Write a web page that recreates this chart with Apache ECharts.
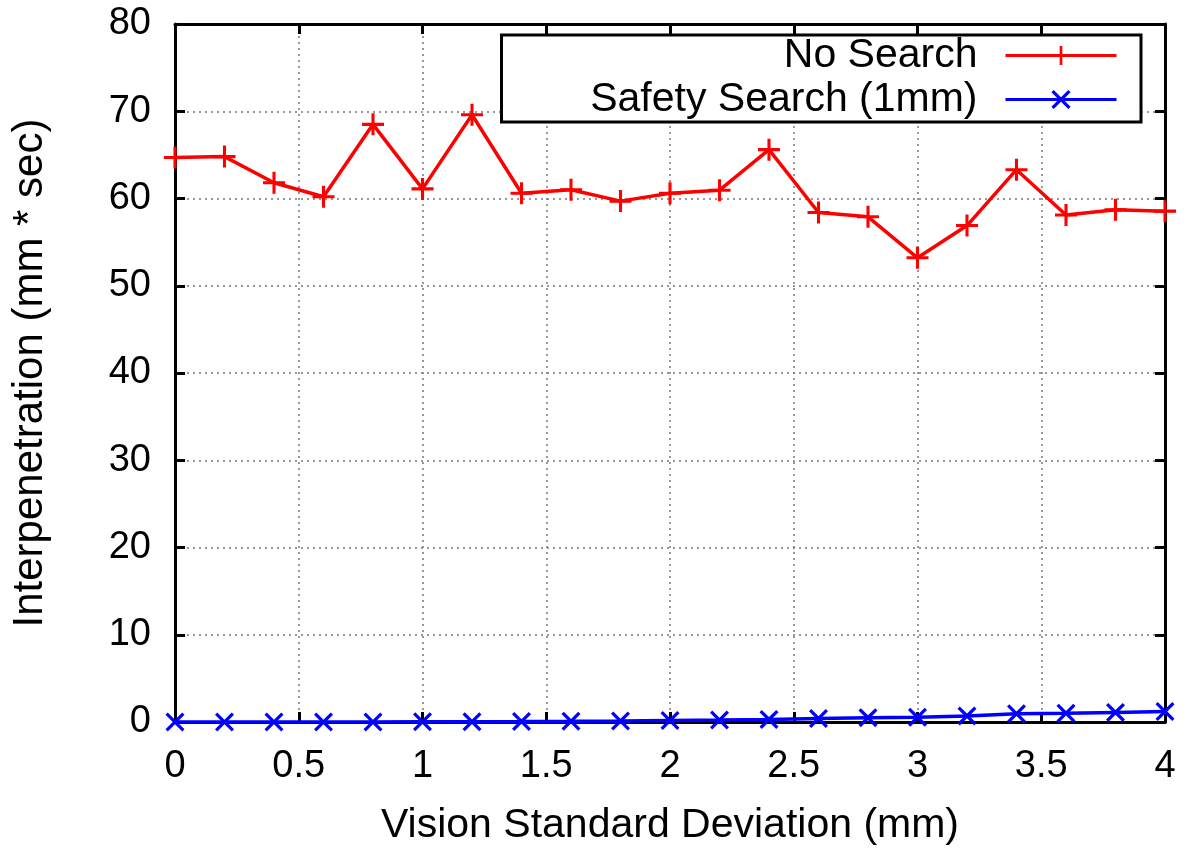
<!DOCTYPE html>
<html>
<head>
<meta charset="utf-8">
<script src="https://cdn.jsdelivr.net/npm/echarts@6/dist/echarts.min.js"></script>
<style>html,body{margin:0;padding:0;background:#fff}#c{width:1189px;height:851px}</style>
</head>
<body>
<div id="c"></div>
<script>
const xValues = [0, 0.2, 0.4, 0.6, 0.8, 1.0, 1.2, 1.4, 1.6, 1.8, 2.0, 2.2, 2.4, 2.6, 2.8, 3.0, 3.2, 3.4, 3.6, 3.8, 4.0];
const noSearch = [64.7, 64.8, 61.8, 60.2, 68.5, 61.1, 69.6, 60.6, 61.0, 59.7, 60.6, 60.95, 65.6, 58.4, 57.9, 53.2, 56.9, 63.3, 58.1, 58.7, 58.55];
const safetySearch = [0, 0, 0, 0, 0, 0.02, 0.03, 0.05, 0.08, 0.12, 0.18, 0.22, 0.3, 0.4, 0.5, 0.55, 0.7, 0.95, 1.0, 1.1, 1.2];
const seriesNames = ['No Search', 'Safety Search (1mm)'];
const xTitle = 'Vision Standard Deviation (mm)';
const yTitle = 'Interpenetration (mm * sec)';

const FONT = '"Liberation Sans", Arial, sans-serif';
const plusPath = 'path://M-0.14,-1 L0.14,-1 L0.14,-0.14 L1,-0.14 L1,0.14 L0.14,0.14 L0.14,1 L-0.14,1 L-0.14,0.14 L-1,0.14 L-1,-0.14 L-0.14,-0.14 Z';
const crossPath = 'path://M-1,-0.76 L-0.76,-1 L0,-0.24 L0.76,-1 L1,-0.76 L0.24,0 L1,0.76 L0.76,1 L0,0.24 L-0.76,1 L-1,0.76 L-0.24,0 Z';

const pair = arr => xValues.map((x, i) => [x, arr[i]]);

const chart = echarts.init(document.getElementById('c'), null, {renderer: 'canvas'});
const axisCommon = {
  axisLine: {show: true, onZero: false, lineStyle: {color: '#000', width: 3}},
  axisTick: {show: true, inside: true, length: 10, lineStyle: {color: '#000', width: 3}},
};
chart.setOption({
  animation: false,
  backgroundColor: '#fff',
  grid: {left: 175, right: 24, top: 24, bottom: 125, containLabel: false},
  legend: {
    orient: 'vertical',
    right: 48,
    top: 35,
    align: 'right',
    backgroundColor: '#fff',
    borderColor: '#000',
    borderWidth: 3,
    borderRadius: 0,
    padding: [0, 23, 2, 36],
    itemGap: 3,
    itemWidth: 111,
    itemHeight: 24,
    lineStyle: {width: 3},
    textStyle: {fontFamily: FONT, fontSize: 41, color: '#000', width: 440, align: 'right', lineHeight: 40, padding: [0, 23, 0, 0]},
    data: seriesNames
  },
  xAxis: [
    Object.assign({
      type: 'value', min: 0, max: 4, interval: 0.5,
      name: xTitle, nameLocation: 'middle', nameGap: 83,
      nameTextStyle: {fontFamily: FONT, fontSize: 41, color: '#000'},
      axisLabel: {fontFamily: FONT, fontSize: 38, color: '#000', margin: 26},
      splitLine: {show: true, lineStyle: {color: '#777', type: [2, 4], width: 1.5}}
    }, axisCommon),
    Object.assign({
      type: 'value', min: 0, max: 4, interval: 0.5, position: 'top',
      axisLabel: {show: false}, splitLine: {show: false}
    }, axisCommon)
  ],
  yAxis: [
    Object.assign({
      type: 'value', min: 0, max: 80, interval: 10,
      name: yTitle, nameLocation: 'middle', nameGap: 124,
      nameTextStyle: {fontFamily: FONT, fontSize: 42, color: '#000'},
      axisLabel: {fontFamily: FONT, fontSize: 38, color: '#000', margin: 24},
      splitLine: {show: true, lineStyle: {color: '#777', type: [2, 4], width: 1.5}}
    }, axisCommon),
    Object.assign({
      type: 'value', min: 0, max: 80, interval: 10, position: 'right',
      axisLabel: {show: false}, splitLine: {show: false}
    }, axisCommon)
  ],
  series: [
    {
      name: seriesNames[0], type: 'line', data: pair(noSearch),
      symbol: plusPath, symbolSize: 22, showAllSymbol: true,
      lineStyle: {color: '#ff0000', width: 3.5},
      itemStyle: {color: '#ff0000'},
      z: 3
    },
    {
      name: seriesNames[1], type: 'line', data: pair(safetySearch),
      symbol: crossPath, symbolSize: 19, showAllSymbol: true,
      lineStyle: {color: '#0000ff', width: 3.5},
      itemStyle: {color: '#0000ff'},
      z: 4
    }
  ]
});
</script>
</body>
</html>
